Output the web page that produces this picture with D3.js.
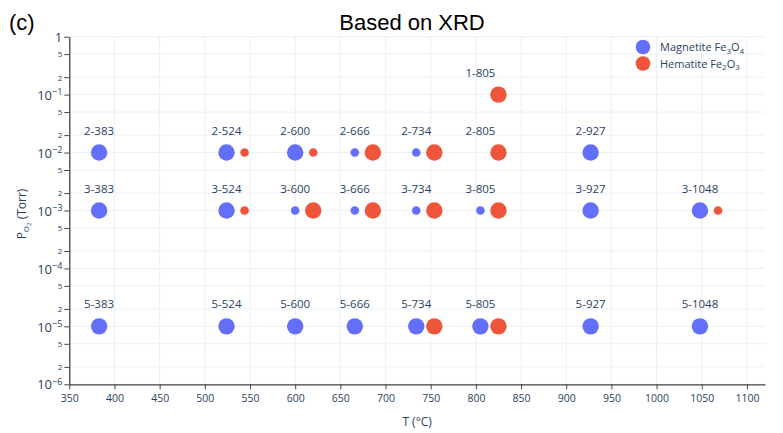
<!DOCTYPE html>
<html>
<head>
<meta charset="utf-8">
<script src="https://cdn.jsdelivr.net/npm/d3@7"></script>
<style>
  html, body { margin: 0; padding: 0; background: #fff; }
  svg { display: block; font-family: "Open Sans", "DejaVu Sans", sans-serif; }
</style>
</head>
<body>
<svg id="chart" width="783" height="433"></svg>
<script>
// Phase map from XRD: oxygen partial pressure vs annealing temperature.
// Marker weight: 1 = dominant phase, 0.5 = minor phase.
const magnetiteT = [383, 524, 600, 666, 734, 927,
                    383, 524, 600, 666, 734, 805, 927, 1048,
                    383, 524, 600, 666, 734, 805, 927, 1048];
const magnetiteP = [1e-2, 1e-2, 1e-2, 1e-2, 1e-2, 1e-2,
                    1e-3, 1e-3, 1e-3, 1e-3, 1e-3, 1e-3, 1e-3, 1e-3,
                    1e-5, 1e-5, 1e-5, 1e-5, 1e-5, 1e-5, 1e-5, 1e-5];
const magnetiteW = [1, 1, 1, 0.5, 0.5, 1,
                    1, 1, 0.5, 0.5, 0.5, 0.5, 1, 1,
                    1, 1, 1, 1, 1, 1, 1, 1];

const hematiteT = [805,
                   524, 600, 666, 734, 805,
                   524, 600, 666, 734, 805, 1048,
                   734, 805];
const hematiteP = [1e-1,
                   1e-2, 1e-2, 1e-2, 1e-2, 1e-2,
                   1e-3, 1e-3, 1e-3, 1e-3, 1e-3, 1e-3,
                   1e-5, 1e-5];
const hematiteW = [1,
                   0.5, 0.5, 1, 1, 1,
                   0.5, 1, 1, 1, 1, 0.5,
                   1, 1];
// hematite markers sit slightly to the right of the sample temperature
const hematiteShift = 20;

// Sample labels "<pressure exponent>-<temperature>"
const sampleT = [805,
                 383, 524, 600, 666, 734, 805, 927,
                 383, 524, 600, 666, 734, 805, 927, 1048,
                 383, 524, 600, 666, 734, 805, 927, 1048];
const sampleExp = [1,
                   2, 2, 2, 2, 2, 2, 2,
                   3, 3, 3, 3, 3, 3, 3, 3,
                   5, 5, 5, 5, 5, 5, 5, 5];

const xTicks = [350, 400, 450, 500, 550, 600, 650, 700, 750, 800, 850, 900, 950, 1000, 1050, 1100];
const yDecades = [0, -1, -2, -3, -4, -5, -6];
const yMinorMultipliers = [2, 5];

const BLUE = "#636efa", RED = "#ef553b";
const TEXT = "#2a3f5f", GRID = "#ebf0f8";

const svg = d3.select("#chart");
const plotL = 69.3, plotR = 765, plotT = 36.7, plotB = 384.3;

const x = d3.scaleLinear().domain([350, 1120]).range([plotL, plotR]);
const y = d3.scaleLog().domain([1e-6, 1]).range([plotB, plotT]);
const size = d3.scaleLinear().domain([0.5, 1]).range([4.3, 8.2]);

// tick values on the log axis: decades plus 2x and 5x minors
const yMajor = yDecades.map(e => Math.pow(10, e));
const yMinor = [];
yDecades.slice(1).forEach(e => yMinorMultipliers.forEach(m => yMinor.push(m * Math.pow(10, e))));
const yAll = yMajor.concat(yMinor).sort((a, b) => a - b);

// gridlines
const grid = svg.append("g");
grid.selectAll("line.v").data(xTicks.slice(1)).join("line")
  .attr("x1", d => x(d)).attr("x2", d => x(d))
  .attr("y1", plotT).attr("y2", plotB)
  .attr("stroke", GRID).attr("stroke-width", 1);
grid.selectAll("line.h").data(yAll).join("line")
  .attr("x1", plotL).attr("x2", plotR)
  .attr("y1", d => y(d)).attr("y2", d => y(d))
  .attr("stroke", GRID).attr("stroke-width", 1);

// markers
const mag = magnetiteT.map((t, i) => ({ t, p: magnetiteP[i], w: magnetiteW[i] }));
const hem = hematiteT.map((t, i) => ({ t: t + hematiteShift, p: hematiteP[i], w: hematiteW[i] }));
svg.append("g").selectAll("circle").data(mag).join("circle")
  .attr("cx", d => x(d.t)).attr("cy", d => y(d.p)).attr("r", d => size(d.w))
  .attr("fill", BLUE);
svg.append("g").selectAll("circle").data(hem).join("circle")
  .attr("cx", d => x(d.t)).attr("cy", d => y(d.p)).attr("r", d => size(d.w))
  .attr("fill", RED);

// sample labels
svg.append("g").selectAll("text").data(sampleT.map((t, i) => ({ t, e: sampleExp[i] }))).join("text")
  .attr("x", d => x(d.t)).attr("y", d => y(Math.pow(10, -d.e)) - 18)
  .attr("text-anchor", "middle").attr("font-size", 11.5).attr("fill", TEXT)
  .text(d => `${d.e}-${d.t}`);

// x axis
const xAxis = svg.append("g").attr("transform", `translate(0,${plotB})`)
  .call(d3.axisBottom(x).tickValues(xTicks).tickSize(5).tickSizeOuter(0).tickFormat(d3.format("d")));
xAxis.select(".domain").attr("stroke", "#444").attr("stroke-width", 1.3);
xAxis.selectAll(".tick line").attr("stroke", "#444");
xAxis.selectAll(".tick text").attr("font-size", 10.5).attr("fill", TEXT)
  .attr("font-family", "Open Sans, sans-serif").attr("dy", "0.95em");

// y axis
const yAxis = svg.append("g").attr("transform", `translate(${plotL},0)`)
  .call(d3.axisLeft(y).tickValues(yAll).tickSize(5).tickSizeOuter(0).tickFormat(() => ""));
yAxis.select(".domain").attr("stroke", "#444").attr("stroke-width", 1.3);
yAxis.selectAll(".tick line").attr("stroke", "#444");
yAxis.selectAll(".tick text").each(function (d) {
  const t = d3.select(this).attr("fill", TEXT).attr("font-family", "Open Sans, sans-serif").attr("x", -7);
  const e = Math.round(Math.log10(d));
  const isMajor = Math.abs(d - Math.pow(10, e)) < 1e-12 * Math.pow(10, e);
  if (isMajor) {
    t.attr("font-size", 13).attr("dy", "0.36em");
    if (e === 0) {
      t.text("1");
    } else {
      t.append("tspan").text("10");
      t.append("tspan").attr("font-size", 9).attr("dy", "-0.55em").text("\u2212" + Math.abs(e));
    }
  } else {
    const m = Math.round(d / Math.pow(10, Math.floor(Math.log10(d))));
    t.attr("font-size", 8).attr("dy", "0.35em").text(String(m));
  }
});

// axis titles
svg.append("text").attr("x", (plotL + plotR) / 2).attr("y", 426)
  .attr("text-anchor", "middle").attr("font-size", 12).attr("fill", TEXT).text("T (°C)");
const yt = svg.append("text").attr("transform", "translate(26,214) rotate(-90)")
  .attr("text-anchor", "middle").attr("font-size", 12).attr("fill", TEXT);
yt.append("tspan").text("P");
yt.append("tspan").attr("font-size", 8).attr("dy", 3).text("O");
yt.append("tspan").attr("font-size", 6).attr("dy", 2).text("2");
yt.append("tspan").attr("dy", -5).text(" (Torr)");

// title and panel tag
svg.append("text").attr("x", 412).attr("y", 30).attr("text-anchor", "middle")
  .attr("font-family", "Liberation Sans, Arial, sans-serif").attr("font-size", 22).attr("fill", "#000")
  .text("Based on XRD");
svg.append("text").attr("x", 9).attr("y", 30)
  .attr("font-family", "Liberation Sans, Arial, sans-serif").attr("font-size", 22).attr("fill", "#000")
  .text("(c)");

// legend
const legendItems = [
  { color: BLUE, name: "Magnetite Fe", a: "3", b: "O", c: "4" },
  { color: RED, name: "Hematite Fe", a: "2", b: "O", c: "3" }
];
const lg = svg.append("g").attr("transform", "translate(643,47)");
legendItems.forEach((it, i) => {
  const row = lg.append("g").attr("transform", `translate(0,${i * 16.5})`);
  row.append("circle").attr("r", 7.3).attr("fill", it.color);
  const t = row.append("text").attr("x", 17).attr("y", 4).attr("font-size", 11).attr("fill", TEXT);
  t.append("tspan").text(it.name);
  t.append("tspan").attr("font-size", 8).attr("dy", 2.5).text(it.a);
  t.append("tspan").attr("dy", -2.5).text(it.b);
  t.append("tspan").attr("font-size", 8).attr("dy", 2.5).text(it.c);
});
</script>
</body>
</html>
